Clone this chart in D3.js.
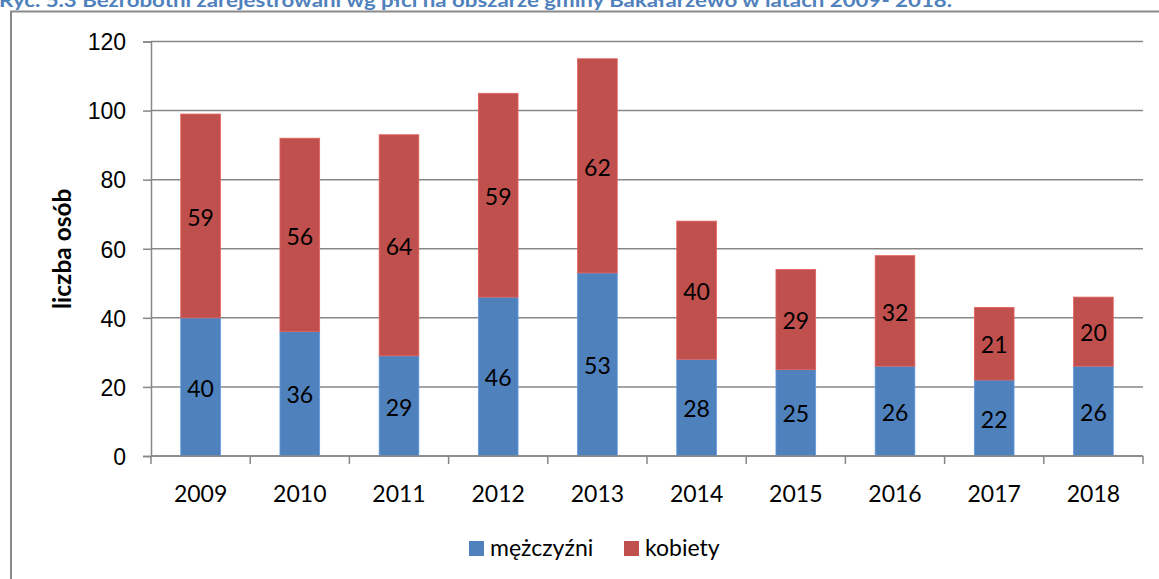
<!DOCTYPE html>
<html>
<head>
<meta charset="utf-8">
<script src="https://cdn.jsdelivr.net/npm/d3@7"></script>
<style>
  body { margin: 0; background: #fff; }
  svg { display: block; font-family: Lato, "Open Sans", sans-serif; }
  .axis path, .axis line { stroke: #878787; stroke-width: 1.5; }
  .axis text { fill: #000; font-size: 23px; }
</style>
</head>
<body>
<div id="chart"></div>
<script>
// data
const years = ['2009', '2010', '2011', '2012', '2013', '2014', '2015', '2016', '2017', '2018']
const men = [40, 36, 29, 46, 53, 28, 25, 26, 22, 26]
const women = [59, 56, 64, 59, 62, 40, 29, 32, 21, 20]
const yTicks = [0, 20, 40, 60, 80, 100, 120]
const seriesNames = ['mężczyźni', 'kobiety']
const colors = ['#4F81BD', '#C0504D']
const title = 'Ryc. 5.3 Bezrobotni zarejestrowani wg płci na obszarze gminy Bakałarzewo w latach 2009- 2018.'

const width = 1159
const height = 579
const plot = { left: 151, right: 1143, top: 41.5, bottom: 456 }

const svg = d3.select('#chart')
  .append('svg')
  .attr('width', width)
  .attr('height', height)

// outer frame
svg.append('rect')
  .attr('x', 11)
  .attr('y', 11.5)
  .attr('width', 1200)
  .attr('height', 700)
  .attr('fill', 'none')
  .attr('stroke', '#8a8a8a')
  .attr('stroke-width', 2)

// title (sits at the very top, partly cut like the source)
svg.append('text')
  .attr('x', -1)
  .attr('y', 7)
  .attr('fill', '#4F81BD')
  .attr('font-weight', 'bold')
  .attr('font-size', 19)
  .attr('textLength', 953)
  .attr('lengthAdjust', 'spacingAndGlyphs')
  .text(title)

//scales
const xScale = d3.scaleBand()
  .domain(years)
  .range([plot.left, plot.right])
  .paddingInner(0.6)
  .paddingOuter(0.3)

const yScale = d3.scaleLinear()
  .domain([0, 120])
  .range([plot.bottom, plot.top])

// gridlines
svg.append('g')
  .selectAll('line')
  .data(yTicks)
  .join('line')
  .attr('x1', plot.left)
  .attr('x2', plot.right)
  .attr('y1', d => yScale(d))
  .attr('y2', d => yScale(d))
  .attr('stroke', '#878787')
  .attr('stroke-width', 1.5)

// stacked data
const stackData = years.map((y, i) => ({ year: y, 'mężczyźni': men[i], 'kobiety': women[i] }))
const stacked = d3.stack().keys(seriesNames)(stackData)

const layers = svg.append('g')
  .selectAll('g')
  .data(stacked)
  .join('g')
  .attr('fill', (d, i) => colors[i])

layers.selectAll('rect')
  .data(d => d)
  .join('rect')
  .attr('x', d => xScale(d.data.year))
  .attr('width', xScale.bandwidth())
  .attr('y', d => yScale(d[1]))
  .attr('height', d => yScale(d[0]) - yScale(d[1]))
  .attr('stroke', function () { return d3.color(d3.select(this.parentNode).attr('fill')).brighter(0.5) })
  .attr('stroke-width', 0.8)

// value labels
layers.selectAll('text')
  .data(d => d)
  .join('text')
  .attr('x', d => xScale(d.data.year) + xScale.bandwidth() / 2)
  .attr('y', d => yScale((d[0] + d[1]) / 2))
  .attr('dy', '0.42em')
  .attr('text-anchor', 'middle')
  .attr('fill', '#000')
  .attr('font-size', 23)
  .text(d => d[1] - d[0])

// y axis
const yAxis = d3.axisLeft(yScale)
  .tickValues(yTicks)
  .tickSize(8)
  .tickPadding(17)

svg.append('g')
  .attr('class', 'axis')
  .attr('transform', `translate(${plot.left},0)`)
  .call(yAxis)
  .call(g => g.selectAll('text').attr('dy', '0.36em'))

// x axis: ticks at category boundaries
const xAxisGroup = svg.append('g')
  .attr('class', 'axis')
  .attr('transform', `translate(0,${plot.bottom})`)

xAxisGroup.append('line')
  .attr('x1', plot.left)
  .attr('x2', plot.right)

const step = xScale.step()
const bounds = d3.range(years.length + 1).map(i => plot.left + i * step)
xAxisGroup.selectAll('.tk')
  .data(bounds)
  .join('line')
  .attr('class', 'tk')
  .attr('x1', d => d)
  .attr('x2', d => d)
  .attr('y1', 0)
  .attr('y2', 8)

xAxisGroup.selectAll('text')
  .data(years)
  .join('text')
  .attr('x', d => xScale(d) + xScale.bandwidth() / 2)
  .attr('y', 46)
  .attr('text-anchor', 'middle')
  .text(d => d)

// y axis title
svg.append('text')
  .attr('transform', `translate(71,${(plot.top + plot.bottom) / 2 + 0}) rotate(-90)`)
  .attr('text-anchor', 'middle')
  .attr('font-weight', 'bold')
  .attr('font-size', 24.5)
  .text('liczba osób')

// legend
const legendX = [469, 624]
const legend = svg.append('g')
  .selectAll('g')
  .data(seriesNames)
  .join('g')
  .attr('transform', (d, i) => `translate(${legendX[i]},541)`)

legend.append('rect')
  .attr('width', 15)
  .attr('height', 15)
  .attr('fill', (d, i) => colors[i])

legend.append('text')
  .attr('x', 21)
  .attr('y', 15)
  .attr('font-size', 23)
  .text(d => d)
</script>
</body>
</html>
